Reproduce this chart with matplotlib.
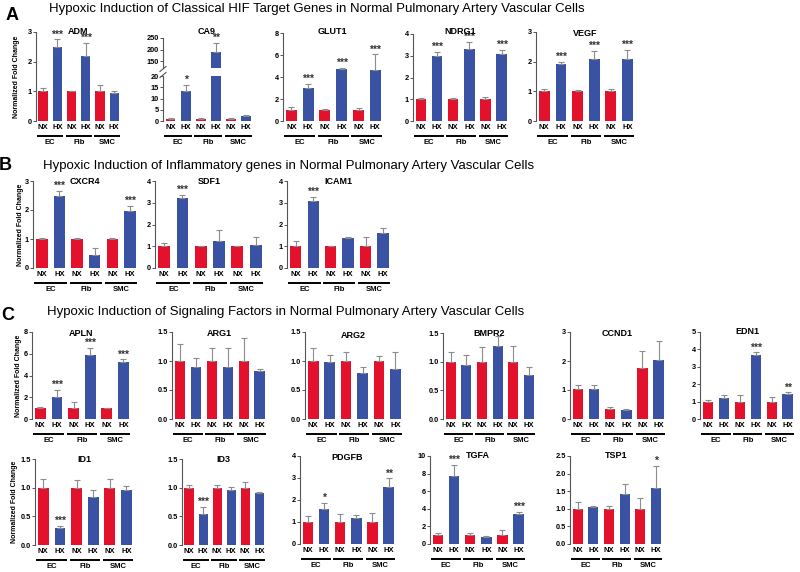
import numpy as np
import matplotlib
matplotlib.use("Agg")
import matplotlib.pyplot as plt
import matplotlib.transforms as mtransforms

plt.rcParams['font.family'] = ['Liberation Sans', 'DejaVu Sans']

RED = '#e3112c'
BLUE = '#3a52a3'
ERRC = '#8c8c8c'

conds = ['NX', 'HX', 'NX', 'HX', 'NX', 'HX']
groups = ['EC', 'Fib', 'SMC']

# ---- data (mean, upper error, significance) ----
ADM = [1.0, 2.5, 1.0, 2.2, 1.0, 0.93]
ADM_err = [0.1, 0.25, 0.01, 0.42, 0.23, 0.07]
ADM_sig = ['', '***', '', '***', '', '']

CA9 = [1.0, 13.2, 1.0, 190, 1.0, 2.3]
CA9_err = [0.2, 2.8, 0.2, 38, 0.2, 0.2]
CA9_sig = ['', '*', '', '**', '', '']

GLUT1 = [1.0, 3.0, 1.0, 4.75, 1.0, 4.6]
GLUT1_err = [0.3, 0.35, 0.05, 0.1, 0.2, 1.45]
GLUT1_sig = ['', '***', '', '***', '', '***']

NDRG1 = [1.0, 3.0, 1.0, 3.32, 1.0, 3.1]
NDRG1_err = [0.08, 0.17, 0.08, 0.3, 0.1, 0.15]
NDRG1_sig = ['', '***', '', '***', '', '***']

VEGF = [1.0, 1.93, 1.0, 2.08, 1.0, 2.1]
VEGF_err = [0.08, 0.07, 0.06, 0.28, 0.07, 0.3]
VEGF_sig = ['', '***', '', '***', '', '***']

CXCR4 = [1.0, 2.5, 1.0, 0.45, 1.0, 1.95]
CXCR4_err = [0.05, 0.15, 0.03, 0.25, 0.03, 0.18]
CXCR4_sig = ['', '***', '', '', '', '***']

SDF1 = [1.0, 3.22, 1.0, 1.22, 1.0, 1.08]
SDF1_err = [0.15, 0.15, 0.02, 0.55, 0.02, 0.35]
SDF1_sig = ['', '***', '', '', '', '']

ICAM1 = [1.0, 3.07, 1.0, 1.38, 1.0, 1.62]
ICAM1_err = [0.25, 0.2, 0.03, 0.05, 0.42, 0.2]
ICAM1_sig = ['', '***', '', '', '', '']

APLN = [1.0, 2.05, 1.0, 5.92, 1.0, 5.28]
APLN_err = [0.1, 0.6, 0.55, 0.65, 0.05, 0.2]
APLN_sig = ['', '***', '', '***', '', '***']

ARG1 = [1.0, 0.89, 1.0, 0.89, 1.0, 0.82]
ARG1_err = [0.3, 0.16, 0.22, 0.33, 0.4, 0.05]
ARG1_sig = ['', '', '', '', '', '']

ARG2 = [1.0, 0.98, 1.0, 0.79, 1.0, 0.87]
ARG2_err = [0.22, 0.12, 0.15, 0.1, 0.09, 0.28]
ARG2_sig = ['', '', '', '', '', '']

BMPR2 = [1.0, 0.94, 1.0, 1.28, 1.0, 0.76]
BMPR2_err = [0.17, 0.18, 0.25, 0.16, 0.28, 0.15]
BMPR2_sig = ['', '', '', '', '', '']

CCND1 = [1.02, 1.02, 0.34, 0.32, 1.77, 2.05]
CCND1_err = [0.15, 0.15, 0.08, 0.04, 0.58, 0.65]
CCND1_sig = ['', '', '', '', '', '']

EDN1 = [1.0, 1.18, 1.0, 3.65, 1.0, 1.43]
EDN1_err = [0.12, 0.22, 0.4, 0.18, 0.25, 0.1]
EDN1_sig = ['', '', '', '***', '', '**']

ID1 = [1.0, 0.3, 1.0, 0.83, 1.0, 0.96]
ID1_err = [0.15, 0.04, 0.13, 0.13, 0.15, 0.07]
ID1_sig = ['', '***', '', '', '', '']

ID3 = [1.0, 0.54, 1.0, 0.96, 1.0, 0.91]
ID3_err = [0.05, 0.13, 0.04, 0.06, 0.1, 0.01]
ID3_sig = ['', '***', '', '', '', '']

PDGFB = [1.0, 1.6, 1.0, 1.2, 1.0, 2.58]
PDGFB_err = [0.27, 0.25, 0.35, 0.12, 0.43, 0.4]
PDGFB_sig = ['', '*', '', '', '', '**']

TGFA = [1.0, 7.7, 1.0, 0.75, 1.0, 3.45]
TGFA_err = [0.2, 1.3, 0.25, 0.2, 0.6, 0.2]
TGFA_sig = ['', '***', '', '', '', '***']

TSP1 = [1.0, 1.04, 1.0, 1.41, 1.0, 1.6]
TSP1_err = [0.2, 0.04, 0.08, 0.3, 0.3, 0.62]
TSP1_sig = ['', '', '', '', '', '*']

W, H = 800, 572
fig = plt.figure(figsize=(8, 5.72), dpi=100)


def add_ax(l, r, top, bot):
    return fig.add_axes([l / W, 1 - bot / H, (r - l) / W, (bot - top) / H])


def style(ax, ymax, yticks, show_x=True):
    ax.set_xlim(-0.5, 5.4)
    ax.set_ylim(0, ymax)
    ax.set_yticks(yticks)
    for s in ['top', 'right', 'bottom']:
        ax.spines[s].set_visible(False)
    ax.spines['left'].set_color('#555555')
    ax.spines['left'].set_linewidth(0.8)
    ax.tick_params(axis='y', length=2.5, width=0.7, color='#555555', labelsize=5.3, pad=0.5)
    for t in ax.get_yticklabels():
        t.set_fontweight('bold')
    if show_x:
        ax.set_xticks(np.arange(6))
        ax.set_xticklabels(conds, fontsize=5.5, fontweight='bold')
        ax.tick_params(axis='x', length=0, pad=2)
    else:
        ax.set_xticks([])


def bars(ax, mean, err, sig):
    x = np.arange(6)
    ax.bar(x, mean, width=0.65, color=[RED, BLUE] * 3)
    ax.errorbar(x, mean, yerr=[np.zeros(6), err], fmt='none', ecolor=ERRC,
                elinewidth=0.8, capsize=2, capthick=0.8)
    for xi, m, e, s in zip(x, mean, err, sig):
        if s:
            ax.annotate(s, (xi, m + e), xytext=(0, 0), textcoords='offset points',
                        ha='center', va='bottom', fontsize=7.5, color='#333333',
                        fontweight='bold', annotation_clip=False)


def group_lines(ax, bot_px, top_px):
    h = bot_px - top_px
    trans = mtransforms.blended_transform_factory(ax.transData, ax.transAxes)
    for i, g in enumerate(groups):
        ax.plot([2 * i - 0.42, 2 * i + 1.42], [-15 / h] * 2, transform=trans,
                color='black', lw=1.4, clip_on=False, solid_capstyle='butt')
        ax.text(2 * i + 0.5, -21.5 / h, g, transform=trans, ha='center', va='center',
                fontsize=5.5, fontweight='bold')


def panel(name, mean, err, sig, l, r, top, bot, ymax, yticks, title_y):
    ax = add_ax(l, r, top, bot)
    bars(ax, mean, err, sig)
    style(ax, ymax, yticks)
    group_lines(ax, bot, top)
    fig.text((l + r) / 2 / W, 1 - title_y / H, name, ha='center', va='center',
             fontsize=6.5, fontweight='bold')
    return ax


def ylab(x, top, bot):
    fig.text(x / W, 1 - (top + bot) / 2 / H, 'Normalized Fold Change', rotation=90,
             ha='center', va='center', fontsize=5, fontweight='bold')


# ---- panel headings ----
fig.text(12 / W, 1 - 16 / H, 'A', fontsize=13, fontweight='bold', ha='center', va='center')
fig.text(5 / W, 1 - 165 / H, 'B', fontsize=13, fontweight='bold', ha='center', va='center')
fig.text(8 / W, 1 - 315 / H, 'C', fontsize=13, fontweight='bold', ha='center', va='center')
fig.text(49 / W, 1 - 9 / H,
         'Hypoxic Induction of Classical HIF Target Genes in Normal Pulmonary Artery Vascular Cells',
         fontsize=9.5, ha='left', va='center')
fig.text(43 / W, 1 - 166 / H,
         'Hypoxic Induction of Inflammatory genes in Normal Pulmonary Artery Vascular Cells',
         fontsize=9.5, ha='left', va='center')
fig.text(47 / W, 1 - 312 / H,
         'Hypoxic Induction of Signaling Factors in Normal Pulmonary Artery Vascular Cells',
         fontsize=9.5, ha='left', va='center')

# ---- row A ----
panel('ADM', ADM, ADM_err, ADM_sig, 36, 120, 32, 121, 3, [0, 1, 2, 3], 32)
ylab(17, 32, 121)

# CA9 with broken axis
ax_lo = add_ax(163, 252, 76, 121)
bars(ax_lo, CA9, CA9_err, [s if s == '*' else '' for s in CA9_sig])
style(ax_lo, 20, [0, 5, 10, 15, 20])
group_lines(ax_lo, 121, 76)
ax_hi = add_ax(163, 252, 38, 68)
bars(ax_hi, CA9, CA9_err, [s if s == '**' else '' for s in CA9_sig])
style(ax_hi, 250, [150, 200, 250], show_x=False)
ax_hi.set_ylim(120, 250)
fig.text(207 / W, 1 - 32 / H, 'CA9', ha='center', va='center', fontsize=6.5, fontweight='bold')
for yb in [69, 75]:
    fig.add_artist(plt.Line2D([160 / W, 166 / W], [1 - (yb + 2.5) / H, 1 - (yb - 2.5) / H],
                              color='#555555', lw=0.8))

panel('GLUT1', GLUT1, GLUT1_err, GLUT1_sig, 283, 382, 33, 121, 8, [0, 2, 4, 6, 8], 32)
panel('NDRG1', NDRG1, NDRG1_err, NDRG1_sig, 413, 508, 34, 121, 4, [0, 1, 2, 3, 4], 32)
panel('VEGF', VEGF, VEGF_err, VEGF_sig, 536, 634, 32, 121, 3, [0, 1, 2, 3], 33)

# ---- row B ----
panel('CXCR4', CXCR4, CXCR4_err, CXCR4_sig, 33, 137, 181, 268, 3, [0, 1, 2, 3], 181)
ylab(21, 181, 268)
panel('SDF1', SDF1, SDF1_err, SDF1_sig, 155, 263, 181, 268, 4, [0, 1, 2, 3, 4], 181)
panel('ICAM1', ICAM1, ICAM1_err, ICAM1_sig, 287, 390, 181, 268, 4, [0, 1, 2, 3, 4], 181)

# ---- row C, first line ----
panel('APLN', APLN, APLN_err, APLN_sig, 32, 130, 332, 419, 8, [0, 2, 4, 6, 8], 333)
ylab(19, 332, 419)
panel('ARG1', ARG1, ARG1_err, ARG1_sig, 172, 266, 332, 419, 1.5, [0, 0.5, 1.0, 1.5], 334)
panel('ARG2', ARG2, ARG2_err, ARG2_sig, 305, 402, 332, 419, 1.5, [0, 0.5, 1.0, 1.5], 336)
panel('BMPR2', BMPR2, BMPR2_err, BMPR2_sig, 443, 535, 333, 419, 1.5, [0, 0.5, 1.0, 1.5], 333)
panel('CCND1', CCND1, CCND1_err, CCND1_sig, 570, 665, 332, 419, 3, [0, 1, 2, 3], 333)
panel('EDN1', EDN1, EDN1_err, EDN1_sig, 700, 794, 332, 419, 5, [0, 1, 2, 3, 4, 5], 332)

# ---- row C, second line ----
panel('ID1', ID1, ID1_err, ID1_sig, 35, 133, 459, 545, 1.5, [0, 0.5, 1.0, 1.5], 459)
ylab(14, 459, 545)
panel('ID3', ID3, ID3_err, ID3_sig, 182, 265, 459, 545, 1.5, [0, 0.5, 1.0, 1.5], 459)
panel('PDGFB', PDGFB, PDGFB_err, PDGFB_sig, 300, 395, 456, 544, 4, [0, 1, 2, 3, 4], 458)
panel('TGFA', TGFA, TGFA_err, TGFA_sig, 430, 525, 456, 544, 10, [0, 2, 4, 6, 8, 10], 456)
panel('TSP1', TSP1, TSP1_err, TSP1_sig, 570, 662, 456, 544, 2.5, [0, 0.5, 1.0, 1.5, 2.0, 2.5], 456)

fig.savefig('out.png', dpi=100)
